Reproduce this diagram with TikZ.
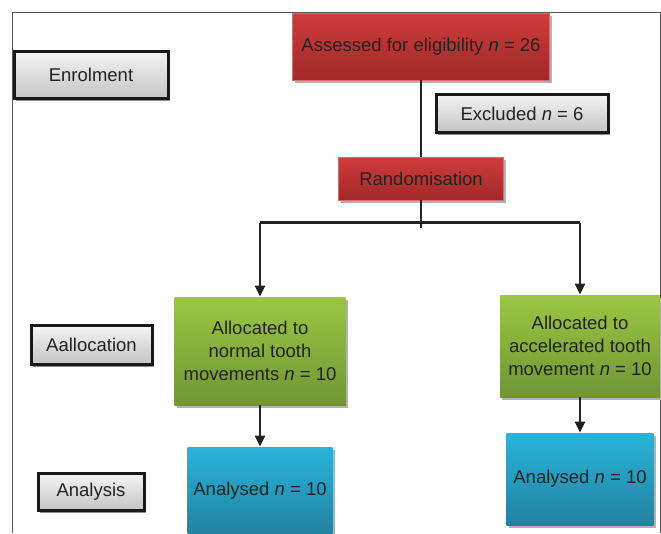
\documentclass[tikz,border=0pt]{standalone}
\usepackage{fontspec}
\setmainfont{Liberation Sans}
\usetikzlibrary{arrows.meta,shadows}
\definecolor{TextDark}{HTML}{222222}
\definecolor{FrameGray}{HTML}{555555}
\definecolor{RedTop}{HTML}{D03C3C}
\definecolor{RedBottom}{HTML}{A12828}
\definecolor{GreenTop}{HTML}{9CC743}
\definecolor{GreenBottom}{HTML}{6F9535}
\definecolor{BlueTop}{HTML}{29B4DB}
\definecolor{BlueBottom}{HTML}{22829F}
\definecolor{PaleTop}{HTML}{F4F4F4}
\definecolor{PaleBottom}{HTML}{C4C4C4}

\tikzset{
  boxtext/.style={text=TextDark, align=center, inner sep=2pt,
    font=\fontsize{18.5}{23}\selectfont},
  phasebox/.style={boxtext, draw=black!90, line width=3pt,
    top color=PaleTop, bottom color=PaleBottom,
    drop shadow={shadow xshift=2pt, shadow yshift=-2pt, fill=black!45, opacity=1}},
  colbox/.style={boxtext, line width=0.8pt,
    drop shadow={shadow xshift=2pt, shadow yshift=-3pt, fill=black!30, opacity=1}},
  redbox/.style={colbox, draw=RedTop!75!white, top color=RedTop, bottom color=RedBottom},
  greenbox/.style={colbox, draw=none, top color=GreenTop, bottom color=GreenBottom},
  bluebox/.style={colbox, draw=none, top color=BlueTop, bottom color=BlueBottom},
  link/.style={draw=TextDark, line width=2.4pt},
  flow/.style={link, -{Triangle[length=11pt,width=10pt]}}
}

\begin{document}
\begin{tikzpicture}[x=1pt,y=-1pt]
  \useasboundingbox (0,0) rectangle (661,533);
  % frame
  \draw[FrameGray, line width=0.8pt] (12.5,533) -- (12.5,12.5) -- (660,12.5) -- (660,533);

  % phases on the left
  \node[phasebox, minimum width=154pt, minimum height=47pt] (enrol) at (91,75) {Enrolment};
  \node[phasebox, minimum width=121pt, minimum height=39pt] (aalloc) at (91.5,345) {Aallocation};
  \node[phasebox, minimum width=106pt, minimum height=37pt] (analysis) at (91,492) {Analysis};

  % enrolment
  \node[redbox, minimum width=257pt, minimum height=67pt] (assess) at (421,46.5)
    {Assessed for eligibility \textit{n} = 26};
  \node[phasebox, minimum width=172pt, minimum height=38pt] (excl) at (522,113.5)
    {Excluded \textit{n} = 6};
  \node[redbox, minimum width=165pt, minimum height=43pt] (rand) at (421,178.5) {Randomisation};

  % allocation
  \node[greenbox, minimum width=171pt, minimum height=108pt] (alloc1) at (260,351)
    {Allocated to\\normal tooth\\movements \textit{n} = 10};
  \node[greenbox, minimum width=160pt, minimum height=102pt] (alloc2) at (580,346)
    {Allocated to\\accelerated tooth\\movement \textit{n} = 10};

  % analysis
  \node[bluebox, minimum width=145pt, minimum height=88pt] (anal1) at (260,491)
    {Analysed \textit{n} = 10};
  \node[bluebox, minimum width=147pt, minimum height=92pt] (anal2) at (580,479)
    {Analysed \textit{n} = 10};

  % connectors
  \coordinate (split) at (421,228);
  \coordinate (bl) at (260,222.5);
  \coordinate (br) at (580,222.5);
  \draw[link] (assess.south) -- (rand.north);
  \draw[link] (rand.south) -- (split);
  \draw[link] (bl) -- (br);
  \draw[flow] (bl) -- (alloc1.north);
  \draw[flow] (br) -- (alloc2.north);
  \draw[flow] (alloc1.south) -- (anal1.north);
  \draw[flow] (alloc2.south) -- (anal2.north);
\end{tikzpicture}
\end{document}
